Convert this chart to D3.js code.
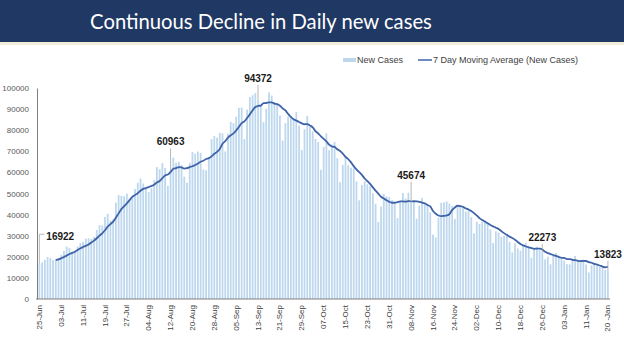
<!DOCTYPE html>
<html>
<head>
<meta charset="utf-8">
<script src="https://cdn.jsdelivr.net/npm/d3@7"></script>
<style>
  body { margin: 0; background: #fff; }
  svg { display: block; }
</style>
</head>
<body>
<script>
// daily new cases, 25 Jun -> 20 Jan, one array per month
var jun = [16922, 17296, 18552, 19906, 19459, 18522];
var jul = [18653, 19148, 20903, 22771, 24850, 24248, 22252, 22752, 24879, 26506,
           27114, 28637, 28701, 28498, 29429, 32695, 34956, 34884, 38902, 40425,
           37148, 37724, 45720, 49310, 48916, 48661, 49931, 47703, 48513, 52123, 55078];
var aug = [57118, 54735, 52972, 50629, 52509, 56282, 62538, 61537, 64399, 62064,
           53601, 60963, 66999, 64553, 65002, 63490, 57981, 55079, 64531, 69652,
           68898, 69878, 69239, 61408, 60975, 67151, 75760, 77266, 76472, 78761, 78512];
var sep = [69921, 78357, 83883, 83341, 86432, 90632, 90802, 75809, 89706, 95735,
           96551, 97570, 94372, 92071, 83809, 90123, 97894, 96424, 93337, 92605,
           86961, 75083, 83347, 86508, 86052, 85362, 88600, 82170, 70589, 80472];
var oct = [86821, 81484, 79476, 75829, 74442, 61267, 72049, 78524, 70496, 73272,
           74383, 66732, 55342, 63509, 67708, 63371, 62212, 61871, 55722, 46790,
           54044, 55839, 54366, 53370, 50129, 45148, 36470, 43893, 49881, 48648, 48268];
var nov = [46963, 45231, 38310, 46253, 50210, 47638, 50357, 45674, 45903, 38073,
           44281, 47905, 44879, 44878, 41100, 30548, 29164, 38617, 45576, 45882,
           46232, 45209, 44059, 37975, 44376, 44489, 43082, 41322, 41810, 38772];
var dec = [31118, 36604, 35551, 36594, 36652, 36011, 32981, 26567, 32080, 31521,
           29398, 30006, 30254, 27071, 22065, 26382, 24010, 22890, 25152, 26624,
           24337, 19556, 23950, 24712, 23067, 22273, 18732, 20021, 16432, 20549, 21822];
var jan = [20035, 19078, 18177, 16504, 16375, 18088, 20346, 18139, 18222, 18645,
           16311, 12584, 15968, 16946, 15590, 15158, 15144, 13788, 13823];

var newCases = [].concat(jun, jul, aug, sep, oct, nov, dec, jan);

// category labels shown every 8th day
var tickLabels = ["25-Jun", "03-Jul", "11-Jul", "19-Jul", "27-Jul", "04-Aug", "12-Aug",
                  "20-Aug", "28-Aug", "05-Sep", "13-Sep", "21-Sep", "29-Sep", "07-Oct",
                  "15-Oct", "23-Oct", "31-Oct", "08-Nov", "16-Nov", "24-Nov", "02-Dec",
                  "10-Dec", "18-Dec", "26-Dec", "03-Jan", "11-Jan", "20 -Jan"];
var tickEvery = 8;

var yTicks = [0, 10000, 20000, 30000, 40000, 50000, 60000, 70000, 80000, 90000, 100000];

// bars that carry a data label
var labelled = [0, 48, 80, 136, 184, 208];
var maPeriod = 7;

function init() {
    var w = 624;
    var h = 351;

    var svg = d3.select("body")
                .append("svg")
                .attr("width", w)
                .attr("height", h)
                .style("font-family", "'Liberation Sans', Arial, sans-serif");

    // title banner
    svg.append("rect")
        .attr("x", 0).attr("y", 0)
        .attr("width", w).attr("height", 42)
        .attr("fill", "#203864");
    svg.append("rect")
        .attr("x", 0).attr("y", 42)
        .attr("width", w).attr("height", 3)
        .attr("fill", "#f3eedc");

    var title = svg.append("text")
        .attr("x", 261)
        .attr("y", 29)
        .attr("text-anchor", "middle")
        .attr("fill", "#ffffff")
        .style("font-family", "Lato, 'Open Sans', sans-serif")
        .style("font-size", "22px")
        .text("Continuous Decline in Daily new cases");
    // fit title to the banner text width
    var tw = title.node().getComputedTextLength();
    title.style("font-size", (22 * 342 / tw) + "px");

    var xScale = d3.scaleBand()
        .domain(d3.range(newCases.length))
        .range([38, 609.3])
        .paddingInner(0.35)
        .paddingOuter(0.175);

    var yScale = d3.scaleLinear()
        .domain([0, 100000])
        .range([299, 88]);

    // bars
    svg.append("g")
        .selectAll("rect")
        .data(newCases)
        .enter()
        .append("rect")
        .attr("x", function (d, i) { return xScale(i); })
        .attr("y", function (d) { return yScale(d); })
        .attr("width", xScale.bandwidth())
        .attr("height", function (d) { return yScale(0) - yScale(d); })
        .attr("fill", "#bdd7ee");

    // 7 day moving average (trailing window, like Excel's trendline)
    var ma = [];
    for (var i = maPeriod - 1; i < newCases.length; i++) {
        ma.push({ i: i, v: d3.mean(newCases.slice(i - maPeriod + 1, i + 1)) });
    }
    var line = d3.line()
        .x(function (d) { return xScale(d.i) + xScale.bandwidth() / 2; })
        .y(function (d) { return yScale(d.v); })
        .curve(d3.curveMonotoneX);

    svg.append("path")
        .datum(ma)
        .attr("d", line)
        .attr("fill", "none")
        .attr("stroke", "#3f63a8")
        .attr("stroke-width", 1.8);

    // y axis
    var yAxis = d3.axisLeft(yScale)
        .tickValues(yTicks)
        .tickSize(0)
        .tickPadding(8)
        .tickFormat(d3.format("d"));
    var gy = svg.append("g")
        .attr("transform", "translate(37,0)")
        .call(yAxis);
    gy.select(".domain").attr("stroke", "#7f7f7f");
    gy.selectAll("text")
        .attr("fill", "#595959")
        .style("font-size", "8px")
        .style("font-family", "'Liberation Sans', Arial, sans-serif");

    // x axis
    var xAxis = d3.axisBottom(xScale)
        .tickValues(d3.range(0, newCases.length, tickEvery))
        .tickSize(0)
        .tickFormat(function (d) { return tickLabels[d / tickEvery]; });
    var gx = svg.append("g")
        .attr("transform", "translate(0,299)")
        .call(xAxis);
    gx.select(".domain")
        .attr("stroke", "#7f7f7f")
        .attr("d", "M-1,0H573")
        .attr("transform", "translate(37,0)");
    gx.selectAll("text")
        .attr("fill", "#404040")
        .style("font-size", "8px")
        .style("font-family", "'Liberation Sans', Arial, sans-serif")
        .attr("text-anchor", "end")
        .attr("dy", "0.32em")
        .attr("transform", "translate(0,6) rotate(-90)")
        .attr("x", 0)
        .attr("y", 0);

    // data labels with leader lines
    var labelGap = [23, 25, 18, 24, 11, 12];
    labelled.forEach(function (idx, k) {
        var cx = xScale(idx) + xScale.bandwidth() / 2;
        var top = yScale(newCases[idx]);
        var base = top - labelGap[k];
        var g = svg.append("g");
        if (k === 0) {
            g.append("path")
                .attr("d", "M" + cx + "," + top + "V" + (base - 6) + "H" + (cx + 5))
                .attr("fill", "none")
                .attr("stroke", "#a6a6a6")
                .attr("stroke-width", 0.8);
            g.append("text")
                .attr("x", cx + 7)
                .attr("y", base)
                .text(newCases[idx]);
        } else {
            g.append("line")
                .attr("x1", cx).attr("x2", cx)
                .attr("y1", top).attr("y2", base + 3)
                .attr("stroke", "#a6a6a6")
                .attr("stroke-width", 0.8);
            g.append("text")
                .attr("x", cx)
                .attr("y", base)
                .attr("text-anchor", "middle")
                .text(newCases[idx]);
        }
        g.selectAll("text")
            .attr("fill", "#1a1a1a")
            .style("font-size", "10px")
            .style("font-weight", "bold");
    });

    // legend
    var lg = svg.append("g").style("font-size", "9px").attr("fill", "#404040");
    lg.append("rect")
        .attr("x", 343).attr("y", 58)
        .attr("width", 13).attr("height", 4)
        .attr("fill", "#bdd7ee");
    lg.append("text").attr("x", 357).attr("y", 63).text("New Cases");
    lg.append("line")
        .attr("x1", 418).attr("x2", 432)
        .attr("y1", 60).attr("y2", 60)
        .attr("stroke", "#3f63a8")
        .attr("stroke-width", 1.5);
    lg.append("text").attr("x", 433).attr("y", 63).text("7 Day Moving Average (New Cases)");
}

window.onload = init;
</script>
</body>
</html>
